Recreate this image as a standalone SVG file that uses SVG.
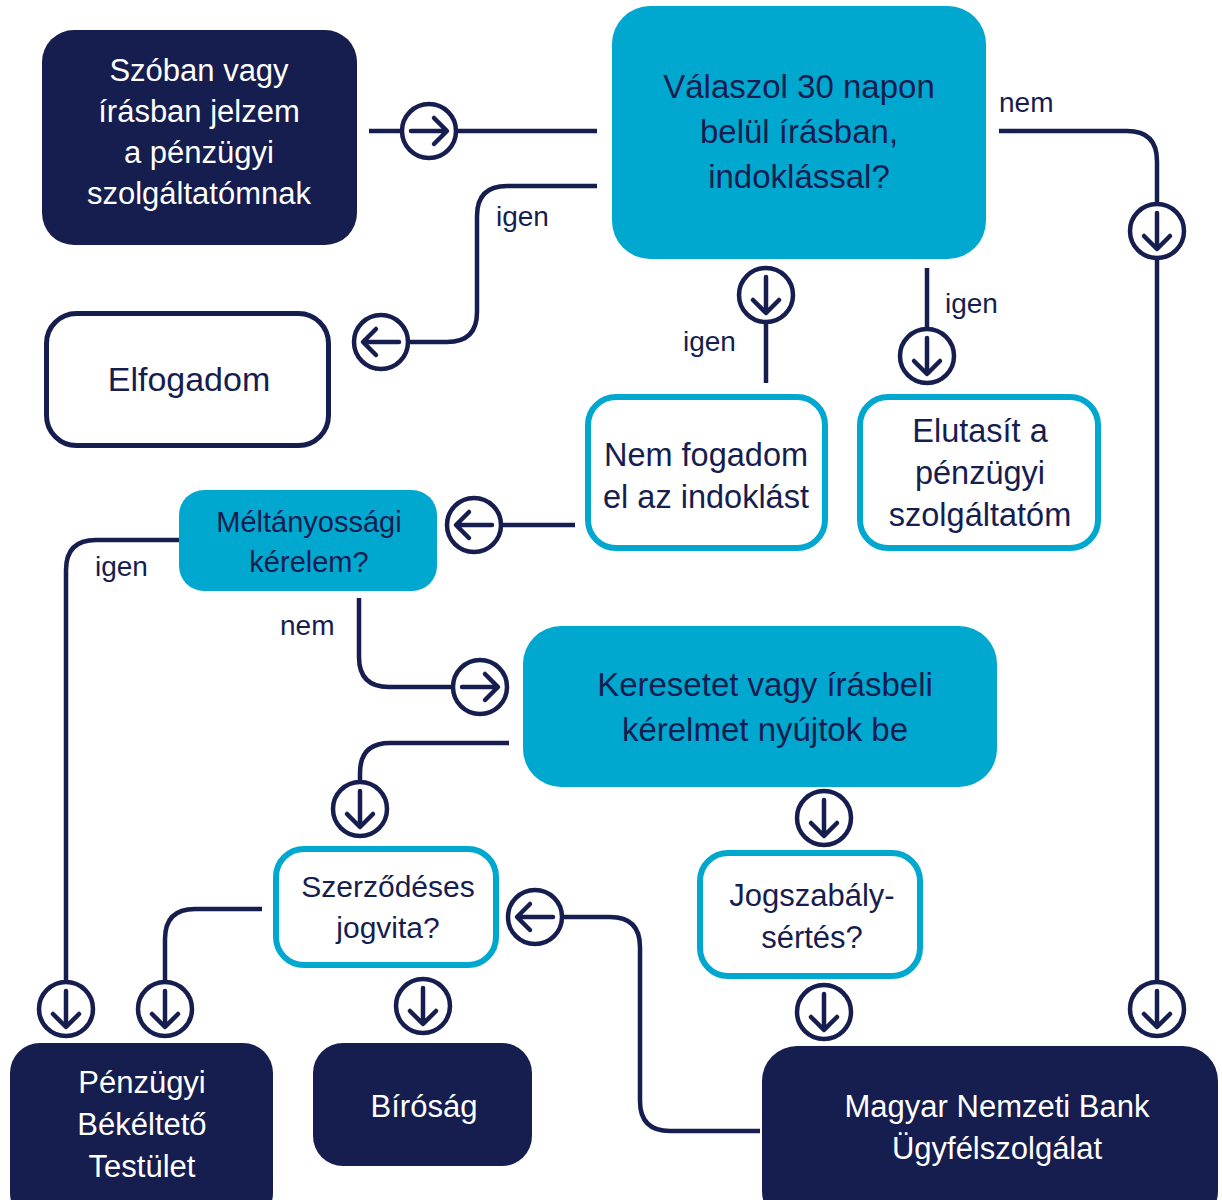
<svg xmlns="http://www.w3.org/2000/svg" xmlns:xlink="http://www.w3.org/1999/xlink" width="1222" height="1200" viewBox="0 0 1222 1200">
<style>
text{font-family:"Liberation Sans",Arial,sans-serif;text-anchor:middle}
.navy{fill:#161d4f}
.cyan{fill:#00a8cf}
.wn{fill:#fff;stroke:#161d4f;stroke-width:5}
.wc{fill:#fff;stroke:#00a8cf;stroke-width:6}
.tw{fill:#fff;font-size:31px}
.tn{fill:#161d4f;font-size:31px}
.tb{fill:#161d4f;font-size:33px}
.lab{fill:#161d4f;font-size:28px;text-anchor:start}
.conn path{fill:none;stroke:#161d4f;stroke-width:4.5}
</style>
<defs>
<g id="arr">
<circle cx="0" cy="0" r="27" fill="#fff" stroke="#161d4f" stroke-width="4.5"/>
<path d="M-18,0 H17 M5,-13 L18,0 L5,13" fill="none" stroke="#161d4f" stroke-width="4.5" stroke-linecap="round" stroke-linejoin="round"/>
</g>
</defs>
<rect width="1222" height="1200" fill="#fff"/>

<g id="connectors" class="conn">
<path d="M369,131 H597"/>
<path d="M597,186 H507 Q477,186 477,216 V312 Q477,342 447,342 H381"/>
<path d="M766,295 V383"/>
<path d="M927,268 V356"/>
<path d="M999,131 H1127 Q1157,131 1157,161 V1009"/>
<path d="M575,525 H474"/>
<path d="M179,540 H96 Q66,540 66,570 V1009"/>
<path d="M359,598 V657 Q359,687 389,687 H480"/>
<path d="M509,743 H390 Q360,743 360,773 V809"/>
<path d="M262,909 H195 Q165,909 165,939 V1009"/>
<path d="M760,1131 H670 Q640,1131 640,1101 V947 Q640,917 610,917 H535"/>
<use href="#arr" transform="translate(429,131)"/>
<use href="#arr" transform="translate(381,342) rotate(180)"/>
<use href="#arr" transform="translate(766,295) rotate(90)"/>
<use href="#arr" transform="translate(927,356) rotate(90)"/>
<use href="#arr" transform="translate(1157,231) rotate(90)"/>
<use href="#arr" transform="translate(474,525) rotate(180)"/>
<use href="#arr" transform="translate(480,687)"/>
<use href="#arr" transform="translate(360,809) rotate(90)"/>
<use href="#arr" transform="translate(824,818) rotate(90)"/>
<use href="#arr" transform="translate(66,1009) rotate(90)"/>
<use href="#arr" transform="translate(165,1009) rotate(90)"/>
<use href="#arr" transform="translate(423,1006) rotate(90)"/>
<use href="#arr" transform="translate(535,917) rotate(180)"/>
<use href="#arr" transform="translate(824,1012) rotate(90)"/>
<use href="#arr" transform="translate(1157,1009) rotate(90)"/>
<text class="lab" x="496" y="226">igen</text>
<text class="lab" x="683" y="351">igen</text>
<text class="lab" x="945" y="313">igen</text>
<text class="lab" x="999" y="112">nem</text>
<text class="lab" x="95" y="576">igen</text>
<text class="lab" x="280" y="635">nem</text>
</g>

<g id="n1">
<rect class="navy" x="42" y="30" width="315" height="215" rx="32"/>
<text class="tw" x="199" y="81">Szóban vagy</text>
<text class="tw" x="199" y="122">írásban jelzem</text>
<text class="tw" x="199" y="163">a pénzügyi</text>
<text class="tw" x="199" y="204">szolgáltatómnak</text>
</g>
<g id="n2">
<rect class="cyan" x="612" y="6" width="374" height="253" rx="38"/>
<text class="tb" x="799" y="98">Válaszol 30 napon</text>
<text class="tb" x="799" y="143">belül írásban,</text>
<text class="tb" x="799" y="188">indoklással?</text>
</g>
<g id="n3">
<rect class="wn" x="46.5" y="313.5" width="282" height="132" rx="30"/>
<text class="tn" x="189" y="391" style="font-size:34px">Elfogadom</text>
</g>
<g id="n4">
<rect class="wc" x="588" y="397" width="237" height="151" rx="28"/>
<text class="tn" x="706" y="466" style="font-size:32.5px">Nem fogadom</text>
<text class="tn" x="706" y="508" style="font-size:32.5px">el az indoklást</text>
</g>
<g id="n5">
<rect class="wc" x="860" y="397" width="238" height="151" rx="28"/>
<text class="tn" x="980" y="442" style="font-size:32.5px">Elutasít a</text>
<text class="tn" x="980" y="484" style="font-size:32.5px">pénzügyi</text>
<text class="tn" x="980" y="526" style="font-size:32.5px">szolgáltatóm</text>
</g>
<g id="n6">
<rect class="cyan" x="179" y="490" width="258" height="101" rx="25"/>
<text class="tn" x="309" y="532" style="font-size:29px">Méltányossági</text>
<text class="tn" x="309" y="572" style="font-size:29px">kérelem?</text>
</g>
<g id="n7">
<rect class="cyan" x="523" y="626" width="474" height="161" rx="38"/>
<text class="tb" x="765" y="696">Keresetet vagy írásbeli</text>
<text class="tb" x="765" y="741">kérelmet nyújtok be</text>
</g>
<g id="n8">
<rect class="wc" x="276" y="849" width="220" height="116" rx="28"/>
<text class="tn" x="388" y="897" style="font-size:30px">Szerződéses</text>
<text class="tn" x="388" y="938" style="font-size:30px">jogvita?</text>
</g>
<g id="n9">
<rect class="wc" x="700" y="853" width="220" height="123" rx="28"/>
<text class="tn" x="812" y="906">Jogszabály-</text>
<text class="tn" x="812" y="948">sértés?</text>
</g>
<g id="n10">
<rect class="navy" x="10" y="1043" width="263" height="180" rx="30"/>
<text class="tw" x="142" y="1093">Pénzügyi</text>
<text class="tw" x="142" y="1135">Békéltető</text>
<text class="tw" x="142" y="1177">Testület</text>
</g>
<g id="n11">
<rect class="navy" x="313" y="1043" width="219" height="123" rx="30"/>
<text class="tw" x="424" y="1117">Bíróság</text>
</g>
<g id="n12">
<rect class="navy" x="762" y="1046" width="456" height="180" rx="35"/>
<text class="tw" x="997" y="1117">Magyar Nemzeti Bank</text>
<text class="tw" x="997" y="1159">Ügyfélszolgálat</text>
</g>
</svg>
